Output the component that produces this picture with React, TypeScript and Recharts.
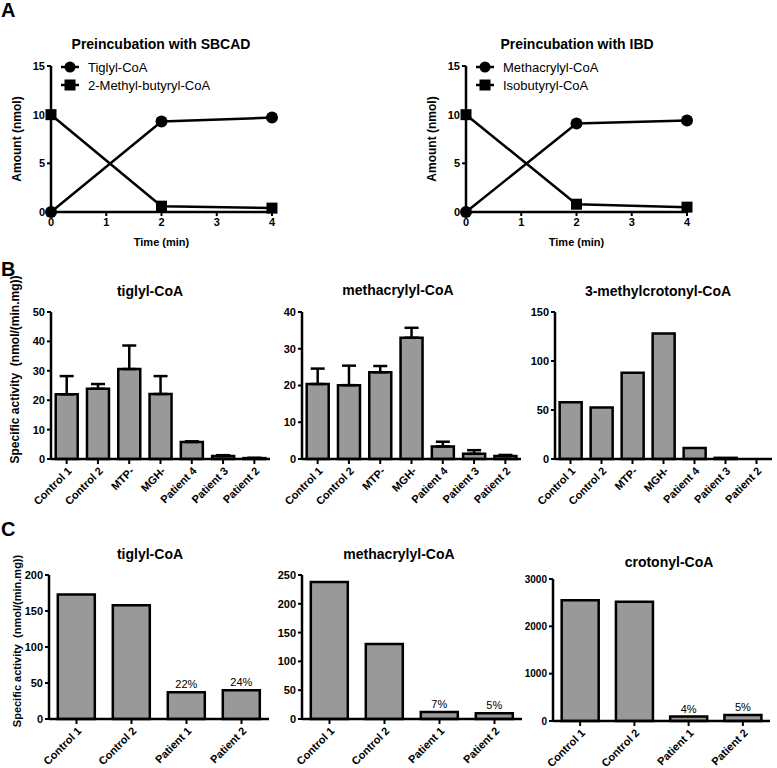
import React from "react";
import {
  LineChart,
  Line,
  BarChart,
  Bar,
  XAxis,
  YAxis,
  ErrorBar,
  LabelList,
  Legend,
} from "recharts";

const FONT = '"Liberation Sans", Arial, Helvetica, sans-serif';

// panel A: time course (nmol)
const timePoints = [0, 2, 4];
const tiglylFormed = [0, 9.3, 9.7];
const methylButyrylLeft = [10, 0.6, 0.4];
const methacrylylFormed = [0, 9.1, 9.4];
const isobutyrylLeft = [10, 0.8, 0.5];

// panel B: specific activity, mean and upper error
const groupsB = ["Control 1", "Control 2", "MTP-", "MGH-", "Patient 4", "Patient 3", "Patient 2"];
const tiglylB = [22, 23.9, 30.6, 22.1, 5.8, 1.0, 0.3];
const tiglylBErr = [6.2, 1.6, 8, 6.1, 0.2, 0.3, 0.1];
const methacrylylB = [20.4, 20.1, 23.6, 33, 3.4, 1.4, 0.8];
const methacrylylBErr = [4.2, 5.3, 1.7, 2.7, 1.3, 1.0, 0.3];
const methylcrotonylB = [58, 52.5, 88, 128, 11.2, 1.2, 0];

// panel C
const groupsC = ["Control 1", "Control 2", "Patient 1", "Patient 2"];
const tiglylC = [173, 158, 37, 40];
const tiglylCPct = ["", "", "22%", "24%"];
const methacrylylC = [238, 130, 12, 10];
const methacrylylCPct = ["", "", "7%", "5%"];
const crotonylC = [2550, 2520, 95, 125];
const crotonylCPct = ["", "", "4%", "5%"];

const axisLine = { stroke: "#000", strokeWidth: 2.5 };
const tickLine = { stroke: "#000", strokeWidth: 2 };
const numTick = { fontSize: 11, fontWeight: "bold", fill: "#000", fontFamily: FONT };

const AngledTick = (props: any) => {
  const { x, y, payload } = props;
  return (
    <g transform={`translate(${x},${y})`}>
      <text
        x={0}
        y={0}
        dy={8}
        textAnchor="end"
        transform="rotate(-45)"
        fontSize={11}
        fontWeight="bold"
        fill="#000"
        fontFamily={FONT}
      >
        {payload.value}
      </text>
    </g>
  );
};

const seriesOrder = ["product", "substrate"];

const MarkerLegend = (props: any) => {
  const items = [...(props.payload || [])].sort(
    (a: any, b: any) => seriesOrder.indexOf(a.dataKey) - seriesOrder.indexOf(b.dataKey)
  );
  return (
    <div style={{ fontFamily: FONT, fontSize: 13, color: "#000" }}>
      {items.map((entry: any) => (
        <div key={entry.value} style={{ display: "flex", alignItems: "center", height: 18 }}>
          <svg width={20} height={14}>
            <line x1={1} y1={7} x2={19} y2={7} stroke="#000" strokeWidth={2.5} />
            {entry.dataKey === "product" ? (
              <circle cx={10} cy={7} r={5.5} fill="#000" />
            ) : (
              <rect x={4.5} y={1.5} width={11} height={11} fill="#000" />
            )}
          </svg>
          <span style={{ marginLeft: 8 }}>{entry.value}</span>
        </div>
      ))}
    </div>
  );
};

const squareDot = (p: any) => (
  <rect key={`sq-${p.index}`} x={p.cx - 5.5} y={p.cy - 5.5} width={11} height={11} fill="#000" />
);

function TimeCourse({
  left,
  products,
  substrates,
  productName,
  substrateName,
}: {
  left: number;
  products: number[];
  substrates: number[];
  productName: string;
  substrateName: string;
}) {
  const data = timePoints.map((t, i) => ({ t, product: products[i], substrate: substrates[i] }));
  return (
    <div style={{ position: "absolute", left, top: 0 }}>
      <LineChart width={290} height={250} data={data} margin={{ top: 66, right: 18, bottom: 0, left: 0 }}>
        <XAxis
          dataKey="t"
          type="number"
          domain={[0, 4]}
          ticks={[0, 1, 2, 3, 4]}
          height={38}
          tick={numTick}
          tickSize={4}
          tickLine={tickLine}
          axisLine={axisLine}
          label={{ value: "Time (min)", position: "insideBottom", offset: 4, fontSize: 11, fontWeight: "bold", fill: "#000", fontFamily: FONT }}
        />
        <YAxis
          domain={[0, 15]}
          ticks={[0, 5, 10, 15]}
          width={51}
          tick={numTick}
          tickSize={4}
          tickLine={tickLine}
          axisLine={axisLine}
          label={{ value: "Amount (nmol)", angle: -90, position: "insideLeft", offset: 17, style: { textAnchor: "middle" }, fontSize: 12, fontWeight: "bold", fill: "#000", fontFamily: FONT }}
        />
        <Legend
          content={<MarkerLegend />}
          layout="vertical"
          align="center"
          verticalAlign="middle"
          wrapperStyle={{ top: 58, left: 60, width: 220, height: 40 }}
        />
        <Line
          dataKey="product"
          name={productName}
          type="linear"
          stroke="#000"
          strokeWidth={2.5}
          dot={{ r: 6, fill: "#000", stroke: "#000", strokeWidth: 0 }}
          isAnimationActive={false}
        />
        <Line
          dataKey="substrate"
          name={substrateName}
          type="linear"
          stroke="#000"
          strokeWidth={2.5}
          dot={squareDot}
          isAnimationActive={false}
        />
      </LineChart>
    </div>
  );
}

function BarPanel({
  left,
  top,
  width,
  height,
  marginTop,
  yWidth,
  xHeight,
  categories,
  values,
  errors,
  pct,
  domain,
  ticks,
  gap,
  tickSize = 11,
  yLabel,
}: {
  left: number;
  top: number;
  width: number;
  height: number;
  marginTop: number;
  yWidth: number;
  xHeight: number;
  categories: string[];
  values: number[];
  errors?: number[];
  pct?: string[];
  domain: [number, number];
  ticks: number[];
  gap: string;
  tickSize?: number;
  yLabel?: { size: number; x: number; dy: number };
}) {
  const data = categories.map((name, i) => ({
    name,
    value: values[i],
    err: errors ? [0, errors[i]] : [0, 0],
    pct: pct ? pct[i] : "",
  }));
  return (
    <div style={{ position: "absolute", left, top }}>
      <BarChart
        width={width}
        height={height}
        data={data}
        margin={{ top: marginTop, right: 5, bottom: 0, left: 0 }}
        barCategoryGap={gap}
      >
        <XAxis
          dataKey="name"
          interval={0}
          height={xHeight}
          tick={<AngledTick />}
          tickSize={5}
          tickLine={tickLine}
          axisLine={axisLine}
        />
        <YAxis
          domain={domain}
          ticks={ticks}
          interval={0}
          width={yWidth}
          tick={{ ...numTick, fontSize: tickSize }}
          tickSize={4}
          tickLine={tickLine}
          axisLine={axisLine}
          label={
            yLabel
              ? {
                  value: "Specific activity\u00A0 (nmol/(min.mg))",
                  angle: -90,
                  position: "insideLeft",
                  offset: yLabel.x,
                  dy: yLabel.dy,
                  style: { textAnchor: "middle" },
                  fontSize: yLabel.size,
                  fontWeight: "bold",
                  fill: "#000",
                  fontFamily: FONT,
                }
              : undefined
          }
        />
        <Bar dataKey="value" fill="#999999" stroke="#000" strokeWidth={2.5} isAnimationActive={false}>
          {errors && <ErrorBar dataKey="err" direction="y" width={7} stroke="#000" strokeWidth={2.5} />}
          {pct && (
            <LabelList dataKey="pct" position="top" offset={4} fill="#000" fontSize={11} fontFamily={FONT} />
          )}
        </Bar>
      </BarChart>
    </div>
  );
}

const Title = ({ cx, cy, text }: { cx: number; cy: number; text: string }) => (
  <div
    style={{
      position: "absolute",
      left: cx - 120,
      top: cy - 8,
      width: 240,
      textAlign: "center",
      fontSize: 14,
      lineHeight: "16px",
      fontWeight: "bold",
      fontFamily: FONT,
    }}
  >
    {text}
  </div>
);

const Letter = ({ top, text }: { top: number; text: string }) => (
  <div style={{ position: "absolute", left: 1, top, fontSize: 20, lineHeight: "20px", fontWeight: "bold", fontFamily: FONT }}>
    {text}
  </div>
);

export default function App() {
  return (
    <div
      style={{
        position: "absolute",
        left: 0,
        top: 0,
        width: 777,
        height: 768,
        background: "#fff",
        overflow: "hidden",
        color: "#000",
      }}
    >
      <Letter top={0} text="A" />
      <Letter top={259} text="B" />
      <Letter top={519} text="C" />

      <Title cx={161} cy={44} text="Preincubation with SBCAD" />
      <Title cx={577} cy={44} text="Preincubation with IBD" />
      <TimeCourse
        left={0}
        products={tiglylFormed}
        substrates={methylButyrylLeft}
        productName="Tiglyl-CoA"
        substrateName="2-Methyl-butyryl-CoA"
      />
      <TimeCourse
        left={415}
        products={methacrylylFormed}
        substrates={isobutyrylLeft}
        productName="Methacrylyl-CoA"
        substrateName="Isobutyryl-CoA"
      />

      <Title cx={150} cy={291} text="tiglyl-CoA" />
      <Title cx={398} cy={290} text="methacrylyl-CoA" />
      <Title cx={658} cy={291} text="3-methylcrotonyl-CoA" />
      <BarPanel
        left={0}
        top={250}
        width={275}
        height={260}
        marginTop={62}
        yWidth={51}
        xHeight={51}
        categories={groupsB}
        values={tiglylB}
        errors={tiglylBErr}
        domain={[0, 50]}
        ticks={[0, 10, 20, 30, 40, 50]}
        gap="15%"
        yLabel={{ size: 12, x: 15, dy: -16 }}
      />
      <BarPanel
        left={251}
        top={280}
        width={275}
        height={230}
        marginTop={32}
        yWidth={51}
        xHeight={51}
        categories={groupsB}
        values={methacrylylB}
        errors={methacrylylBErr}
        domain={[0, 40]}
        ticks={[0, 10, 20, 30, 40]}
        gap="15%"
      />
      <BarPanel
        left={504}
        top={280}
        width={273}
        height={230}
        marginTop={32}
        yWidth={51}
        xHeight={51}
        categories={groupsB}
        values={methylcrotonylB}
        domain={[0, 150]}
        ticks={[0, 50, 100, 150]}
        gap="15%"
      />

      <Title cx={150} cy={554} text="tiglyl-CoA" />
      <Title cx={399} cy={554} text="methacrylyl-CoA" />
      <Title cx={669} cy={562} text="crotonyl-CoA" />
      <BarPanel
        left={0}
        top={540}
        width={274}
        height={228}
        marginTop={35}
        yWidth={49}
        xHeight={49}
        categories={groupsC}
        values={tiglylC}
        pct={tiglylCPct}
        domain={[0, 200]}
        ticks={[0, 50, 100, 150, 200]}
        gap="16%"
        yLabel={{ size: 11, x: 17, dy: -6 }}
      />
      <BarPanel
        left={253}
        top={540}
        width={274}
        height={228}
        marginTop={35}
        yWidth={49}
        xHeight={49}
        categories={groupsC}
        values={methacrylylC}
        pct={methacrylylCPct}
        domain={[0, 250]}
        ticks={[0, 50, 100, 150, 200, 250]}
        gap="16%"
      />
      <BarPanel
        left={504}
        top={540}
        width={271}
        height={228}
        marginTop={39}
        yWidth={49}
        xHeight={47}
        categories={groupsC}
        values={crotonylC}
        pct={crotonylCPct}
        domain={[0, 3000]}
        ticks={[0, 1000, 2000, 3000]}
        gap="16%"
        tickSize={10}
      />
    </div>
  );
}
